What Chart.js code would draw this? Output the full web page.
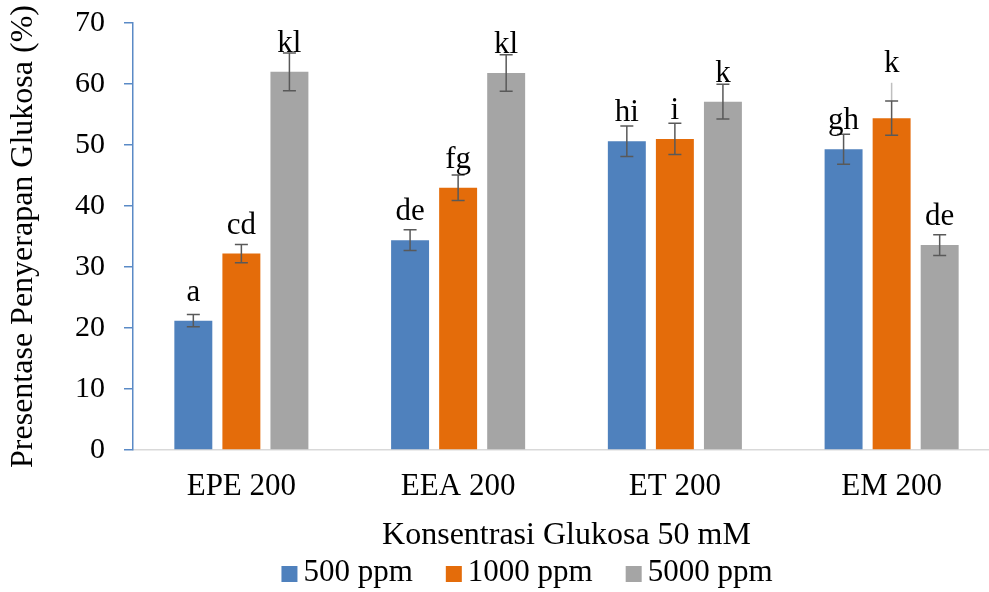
<!DOCTYPE html>
<html>
<head>
<meta charset="utf-8">
<script src="https://cdn.jsdelivr.net/npm/chart.js@4/dist/chart.umd.min.js"></script>
<style>
  html, body { margin: 0; padding: 0; background: #fff; overflow: hidden; }
  #wrap { position: absolute; left: 0; top: 0; width: 1000px; height: 592px; }
</style>
</head>
<body>
<div id="wrap"><canvas id="chart"></canvas></div>
<script>
// data
var categories = ['EPE 200', 'EEA 200', 'ET 200', 'EM 200'];
var seriesNames = ['500 ppm', '1000 ppm', '5000 ppm'];

var ppm500 = [21.2, 34.4, 50.6, 49.3];
var ppm1000 = [32.2, 43.0, 51.0, 54.4];
var ppm5000 = [62.0, 61.8, 57.1, 33.6];

var sd500 = [1.0, 1.7, 2.5, 2.45];
var sd1000 = [1.5, 2.1, 2.55, 2.8];
var sd5000 = [3.1, 3.0, 2.85, 1.7];

// faint extra whisker seen above the EM 200 / 1000 ppm bar
var faintTop1000 = [null, null, null, 60.2];

var letters500 = ['a', 'de', 'hi', 'gh'];
var letters1000 = ['cd', 'fg', 'i', 'k'];
var letters5000 = ['kl', 'kl', 'k', 'de'];

var yTicks = [0, 10, 20, 30, 40, 50, 60, 70];

var serif = "'Liberation Serif', 'Times New Roman', serif";
var axisBlue = '#5A8AC6';

// error bars + letters on top of the bars
var errorBars = {
  id: 'errorBars',
  afterDatasetsDraw: function(chart) {
    var ctx = chart.ctx;
    var y = chart.scales.y;
    chart.data.datasets.forEach(function(ds, i) {
      var meta = chart.getDatasetMeta(i);
      meta.data.forEach(function(bar, j) {
        var v = ds.data[j];
        var hi = y.getPixelForValue(v + ds.sd[j]);
        var lo = y.getPixelForValue(v - ds.sd[j]);
        var x = bar.x;
        ctx.save();
        if (ds.faint && ds.faint[j] != null) {
          ctx.strokeStyle = '#BFBFBF';
          ctx.lineWidth = 1.5;
          ctx.beginPath();
          ctx.moveTo(x, hi);
          ctx.lineTo(x, y.getPixelForValue(ds.faint[j]));
          ctx.stroke();
        }
        ctx.strokeStyle = '#595959';
        ctx.lineWidth = 1.5;
        ctx.beginPath();
        ctx.moveTo(x, hi); ctx.lineTo(x, lo);
        ctx.moveTo(x - 6.5, hi); ctx.lineTo(x + 6.5, hi);
        ctx.moveTo(x - 6.5, lo); ctx.lineTo(x + 6.5, lo);
        ctx.stroke();

        var ly = bar.y - 20;
        if (ds.faint && ds.faint[j] != null) {
          ly = y.getPixelForValue(ds.faint[j]) - 11;
        }
        ctx.fillStyle = '#000';
        ctx.font = '31px ' + serif;
        ctx.textAlign = 'center';
        ctx.textBaseline = 'alphabetic';
        ctx.fillText(ds.letters[j], x, ly);
        ctx.restore();
      });
    });
  }
};

// legend drawn by hand so box / text spacing matches
var bottomLegend = {
  id: 'bottomLegend',
  afterDraw: function(chart) {
    var ctx = chart.ctx;
    ctx.save();
    ctx.font = '31px ' + serif;
    var box = 16, gap = 6, spacing = 33;
    var total = 0;
    chart.data.datasets.forEach(function(ds, i) {
      total += box + gap + ctx.measureText(ds.label).width;
      if (i > 0) total += spacing;
    });
    var x = chart.width / 2 + 27 - total / 2;
    var ym = 574;
    chart.data.datasets.forEach(function(ds) {
      ctx.fillStyle = ds.backgroundColor;
      ctx.fillRect(x, ym - box / 2, box, box);
      x += box + gap;
      ctx.fillStyle = '#000';
      ctx.textAlign = 'left';
      ctx.textBaseline = 'middle';
      ctx.fillText(ds.label, x, ym - 1);
      x += ctx.measureText(ds.label).width + spacing;
    });
    ctx.restore();
  }
};

new Chart(document.getElementById('chart'), {
  type: 'bar',
  data: {
    labels: categories,
    datasets: [{
      label: seriesNames[0],
      data: ppm500,
      sd: sd500,
      letters: letters500,
      backgroundColor: '#4F81BD'
    },
    {
      label: seriesNames[1],
      data: ppm1000,
      sd: sd1000,
      letters: letters1000,
      faint: faintTop1000,
      backgroundColor: '#E46C0A'
    },
    {
      label: seriesNames[2],
      data: ppm5000,
      sd: sd5000,
      letters: letters5000,
      backgroundColor: '#A5A5A5'
    }]
  },
  options: {
    responsive: true,
    maintainAspectRatio: false,
    animation: false,
    categoryPercentage: 0.665,
    barPercentage: 0.79,
    layout: { padding: { top: 23, right: 0, bottom: 33, left: 0 } },
    plugins: {
      legend: { display: false },
      tooltip: { enabled: false }
    },
    scales: {
      x: {
        grid: { display: false, drawTicks: false },
        border: { color: '#D9D9D9', width: 1.5 },
        ticks: { color: '#000', font: { family: serif, size: 31 }, padding: 18 },
        title: {
          display: true,
          text: 'Konsentrasi Glukosa 50 mM',
          color: '#000',
          font: { family: serif, size: 32 },
          padding: { top: 0, bottom: 4 }
        },
        afterFit: function(s) { s.height = 592 - 33 - 450; }
      },
      y: {
        min: 0,
        max: 70,
        afterBuildTicks: function(s) {
          s.ticks = yTicks.map(function(v) { return { value: v }; });
        },
        grid: { drawOnChartArea: false, color: axisBlue, tickLength: 9, lineWidth: 1.5 },
        border: { color: axisBlue, width: 1.5 },
        ticks: { color: '#000', font: { family: serif, size: 30 }, padding: 19 },
        title: {
          display: true,
          text: 'Presentase Penyerapan Glukosa (%)',
          color: '#000',
          font: { family: serif, size: 32 },
          padding: { top: 4, bottom: 0 }
        },
        afterFit: function(s) {
          s.width = 133;
          s.paddingTop = 0;
          s.paddingBottom = 0;
        }
      }
    }
  },
  plugins: [errorBars, bottomLegend]
});
</script>
</body>
</html>
